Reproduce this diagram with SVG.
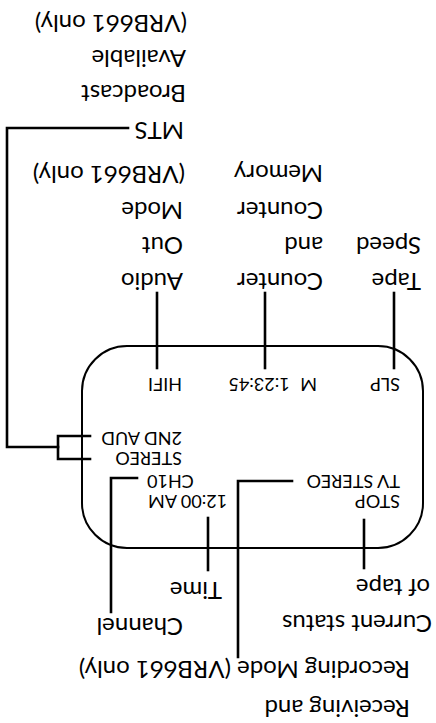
<svg xmlns="http://www.w3.org/2000/svg" width="436" height="723" viewBox="0 0 436 723">
<style>
.lb{font-size:24px}
.ds{font-size:18px}
.c{fill:none;stroke:#000;stroke-width:2.6;stroke-linecap:square}
.box{fill:none;stroke:#000;stroke-width:2}
</style>
<rect width="436" height="723" fill="#fff"/>
<g transform="rotate(180 218 361.5)" font-family="Lato, 'Open Sans', 'Liberation Sans', sans-serif" fill="#000">
<g id="display">
<rect class="box" x="13" y="175" width="341" height="202" rx="45"/>
<text class="ds" x="36" y="228">STOP</text>
<text class="ds" x="288" y="228" text-anchor="end">12:00 AM</text>
<text class="ds" x="36" y="248">TV STEREO</text>
<text class="ds" x="289" y="248" text-anchor="end">CH10</text>
<text class="ds" x="254" y="271">STEREO</text>
<text class="ds" x="254" y="291">2ND AUD</text>
<text class="ds" x="36" y="345">SLP</text>
<text class="ds" x="119" y="345" word-spacing="6">M 1:23:45</text>
<text class="ds" x="254" y="345">HIFI</text>
</g>
<g id="connectors">
<path class="c" d="M42 355V430"/>
<path class="c" d="M171 355V430"/>
<path class="c" d="M279 355V430"/>
<path class="c" d="M308 595H429V276H378"/>
<path class="c" d="M346 264H378V287H346"/>
<path class="c" d="M72 155V203"/>
<path class="c" d="M228 153V205"/>
<path class="c" d="M325 111V245H299"/>
<path class="c" d="M198 66V242H144"/>
</g>
<g id="tape-speed"><text class="lb" x="15" y="450">Tape</text><text class="lb" x="15" y="486">Speed</text></g>
<g id="counter"><text class="lb" x="113" y="450">Counter</text><text class="lb" x="113" y="486">and</text><text class="lb" x="113" y="521">Counter</text><text class="lb" x="113" y="558">Memory</text></g>
<g id="audio-out"><text class="lb" x="253" y="450">Audio</text><text class="lb" x="253" y="486">Out</text><text class="lb" x="253" y="521">Mode</text><text class="lb" x="251" y="557">(VRB661 only)</text></g>
<g id="mts"><text class="lb" x="252" y="601">MTS</text><text class="lb" x="250" y="638">Broadcast</text><text class="lb" x="250" y="673">Available</text><text class="lb" x="249" y="708">(VRB661 only)</text></g>
<g id="current-status"><text class="lb" x="4" y="108">Current status</text><text class="lb" x="6" y="144">of tape</text></g>
<g id="time"><text class="lb" x="214" y="141">Time</text></g>
<g id="channel"><text class="lb" x="253" y="105">Channel</text></g>
<g id="receiving"><text class="lb" x="26" y="23">Receiving and</text><text class="lb" x="26" y="62">Recording Mode (VRB661 only)</text></g>
</g>
</svg>
